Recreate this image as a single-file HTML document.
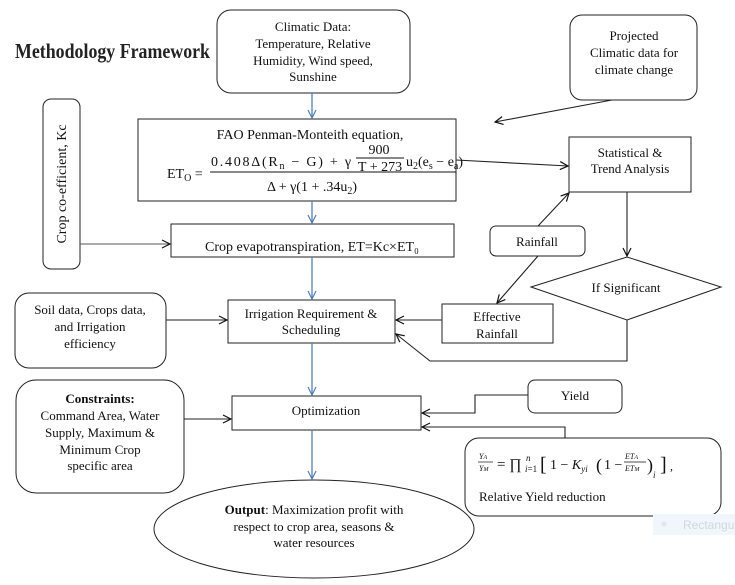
<!DOCTYPE html>
<html><head><meta charset="utf-8"><style>
body{margin:0;background:#fff}
svg{display:block}
text{font-family:"Liberation Serif",serif;font-size:13px;fill:#111}
text.f{font-size:14px}
</style></head><body>
<svg width="735" height="585" viewBox="0 0 735 585" xmlns="http://www.w3.org/2000/svg">
<defs>
<marker id="a" markerWidth="10" markerHeight="10" refX="9" refY="5" orient="auto" markerUnits="userSpaceOnUse"><path d="M1,1 L9,5 L1,9" fill="none" stroke="#111" stroke-width="1.2"/></marker>
<marker id="b" markerWidth="10" markerHeight="10" refX="9" refY="5" orient="auto" markerUnits="userSpaceOnUse"><path d="M1,1 L9,5 L1,9" fill="none" stroke="#4f81bd" stroke-width="1.2"/></marker>
</defs>
<text x="15" y="58" textLength="195" lengthAdjust="spacingAndGlyphs" style="font-size:21px;font-weight:bold;fill:#222">Methodology Framework</text>

<g fill="none" stroke="#222" stroke-width="1">
<rect x="217" y="10" width="193" height="83" rx="14"/>
<rect x="570" y="15" width="127" height="85" rx="12"/>
<rect x="43" y="99" width="37" height="170" rx="8"/>
<rect x="138" y="119" width="318" height="82"/>
<rect x="171" y="224" width="283" height="33"/>
<rect x="569" y="137" width="122" height="55"/>
<rect x="490" y="226" width="95" height="30" rx="6"/>
<polygon points="531,287 627,257 721,287 627,320"/>
<rect x="442" y="304" width="111" height="39"/>
<rect x="228" y="300" width="167" height="43"/>
<rect x="15" y="293" width="151" height="75" rx="14"/>
<rect x="232" y="396" width="189" height="34"/>
<rect x="16" y="380" width="168" height="113" rx="20"/>
<rect x="528" y="380" width="94" height="33" rx="7"/>
<rect x="465" y="438" width="256" height="78" rx="14"/>
<ellipse cx="314" cy="529" rx="160" ry="49"/>
</g>

<g fill="none" stroke="#4f81bd" stroke-width="1.3">
<line x1="312" y1="93" x2="312" y2="118" marker-end="url(#b)"/>
<line x1="312" y1="201" x2="312" y2="223" marker-end="url(#b)"/>
<line x1="312" y1="257" x2="312" y2="299" marker-end="url(#b)"/>
<line x1="312" y1="343" x2="312" y2="395" marker-end="url(#b)"/>
<line x1="312" y1="430" x2="312" y2="479" marker-end="url(#b)"/>
</g>
<g fill="none" stroke="#222" stroke-width="1.1">
<line x1="80" y1="244" x2="170" y2="244" marker-end="url(#a)" stroke="#555"/>
<line x1="612" y1="100" x2="495" y2="122" marker-end="url(#a)"/>
<line x1="456" y1="160" x2="568" y2="166" marker-end="url(#a)"/>
<line x1="627" y1="192" x2="627" y2="256" marker-end="url(#a)"/>
<line x1="538" y1="226" x2="569" y2="193" marker-end="url(#a)"/>
<line x1="538" y1="256" x2="497" y2="303" marker-end="url(#a)"/>
<line x1="442" y1="320" x2="396" y2="320" marker-end="url(#a)"/>
<polyline points="627,320 627,361 430,361 396,334" marker-end="url(#a)"/>
<line x1="166" y1="320" x2="227" y2="320" marker-end="url(#a)"/>
<line x1="184" y1="419" x2="231" y2="419" marker-end="url(#a)"/>
<polyline points="528,395 475,395 475,413 422,413" marker-end="url(#a)"/>
<polyline points="565,438 565,427 422,427" marker-end="url(#a)"/>
</g>

<g text-anchor="middle">
<text x="313" y="31">Climatic Data:</text>
<text x="313" y="48">Temperature, Relative</text>
<text x="313" y="65">Humidity, Wind speed,</text>
<text x="313" y="81">Sunshine</text>
<text x="634" y="40">Projected</text>
<text x="634" y="57">Climatic data for</text>
<text x="634" y="74">climate change</text>
<text transform="translate(66,184) rotate(-90)" style="font-size:14px">Crop co-efficient, Kc</text>
<text x="310" y="139" style="font-size:14px">FAO Penman-Monteith equation,</text>
<text x="312" y="251" style="font-size:14px">Crop evapotranspiration, ET=Kc×ET₀</text>
<text x="630" y="157">Statistical &amp;</text>
<text x="630" y="173">Trend Analysis</text>
<text x="537" y="246">Rainfall</text>
<text x="626" y="292">If Significant</text>
<text x="497" y="321">Effective</text>
<text x="497" y="338">Rainfall</text>
<text x="311" y="318">Irrigation Requirement &amp;</text>
<text x="311" y="334">Scheduling</text>
<text x="90" y="314">Soil data, Crops data,</text>
<text x="90" y="331">and Irrigation</text>
<text x="90" y="348">efficiency</text>
<text x="326" y="415">Optimization</text>
<text x="100" y="403" font-weight="bold">Constraints:</text>
<text x="100" y="420">Command Area, Water</text>
<text x="100" y="437">Supply, Maximum &amp;</text>
<text x="100" y="454">Minimum Crop</text>
<text x="100" y="470">specific area</text>
<text x="575" y="400">Yield</text>
<text x="314" y="514"><tspan font-weight="bold">Output</tspan>: Maximization profit with</text>
<text x="314" y="531">respect to crop area, seasons &amp;</text>
<text x="314" y="547">water resources</text>
</g>
<!-- ET0 formula -->
<text class="f" x="167" y="178">ET<tspan font-size="10" dy="3">O</tspan><tspan dy="-3"> =</tspan></text>
<text class="f" x="211" y="166" textLength="140" lengthAdjust="spacing">0.408Δ(R<tspan font-size="10" dy="3">n</tspan><tspan dy="-3"> − G) + γ</tspan></text>
<text class="f" x="379" y="154" text-anchor="middle">900</text>
<line x1="356" y1="158" x2="404" y2="158" stroke="#111"/>
<text class="f" x="380" y="171" text-anchor="middle">T + 273</text>
<text class="f" x="406" y="166">u<tspan font-size="10" dy="3">2</tspan><tspan dy="-3">(e</tspan><tspan font-size="10" dy="3">s</tspan><tspan dy="-3"> − e</tspan><tspan font-size="10" dy="3">a</tspan><tspan dy="-3">)</tspan></text>
<line x1="210" y1="172" x2="456" y2="172" stroke="#111"/>
<text class="f" x="312" y="191" text-anchor="middle">Δ + γ(1 + .34u<tspan font-size="10" dy="3">2</tspan><tspan dy="-3">)</tspan></text>
<!-- yield formula -->
<g>
<text x="479" y="459" style="font-size:8px;font-style:italic">Y<tspan font-size="6">A</tspan></text>
<line x1="478" y1="462" x2="493" y2="462" stroke="#111" stroke-width="0.7"/>
<text x="479" y="471" style="font-size:8px;font-style:italic">Y<tspan font-size="6">M</tspan></text>
<text x="497" y="469" style="font-size:15px">= ∏</text>
<text x="526" y="461" style="font-size:9px;font-style:italic">n</text>
<text x="525" y="472" style="font-size:9px"><tspan font-style="italic">i</tspan>=1</text>
<text x="540" y="471" style="font-size:20px">[</text>
<text x="550" y="469" style="font-size:14px">1 − <tspan font-style="italic">K</tspan><tspan font-size="9" font-style="italic" dy="3">yi</tspan></text>
<text x="596" y="471" style="font-size:18px">(</text>
<text x="604" y="469" style="font-size:14px">1 −</text>
<text x="625" y="459" style="font-size:8px;font-style:italic">ET<tspan font-size="6">A</tspan></text>
<line x1="624" y1="462" x2="646" y2="462" stroke="#111" stroke-width="0.7"/>
<text x="625" y="471" style="font-size:8px;font-style:italic">ET<tspan font-size="6">M</tspan></text>
<text x="647" y="471" style="font-size:18px">)</text>
<text x="653" y="478" style="font-size:9px;font-style:italic">i</text>
<text x="660" y="471" style="font-size:20px">]</text>
<text x="670" y="470" style="font-size:12px">,</text>
<text x="479" y="501">Relative Yield reduction</text>
</g>
<rect x="653" y="514" width="82" height="21" fill="#f0f6fc"/>
<circle cx="664" cy="524" r="2.5" fill="#dfe6ee"/>
<text x="683" y="529" style="font-family:'Liberation Sans',sans-serif;font-size:12px;fill:#d0d7df">Rectangu</text>
</svg>
</body></html>
